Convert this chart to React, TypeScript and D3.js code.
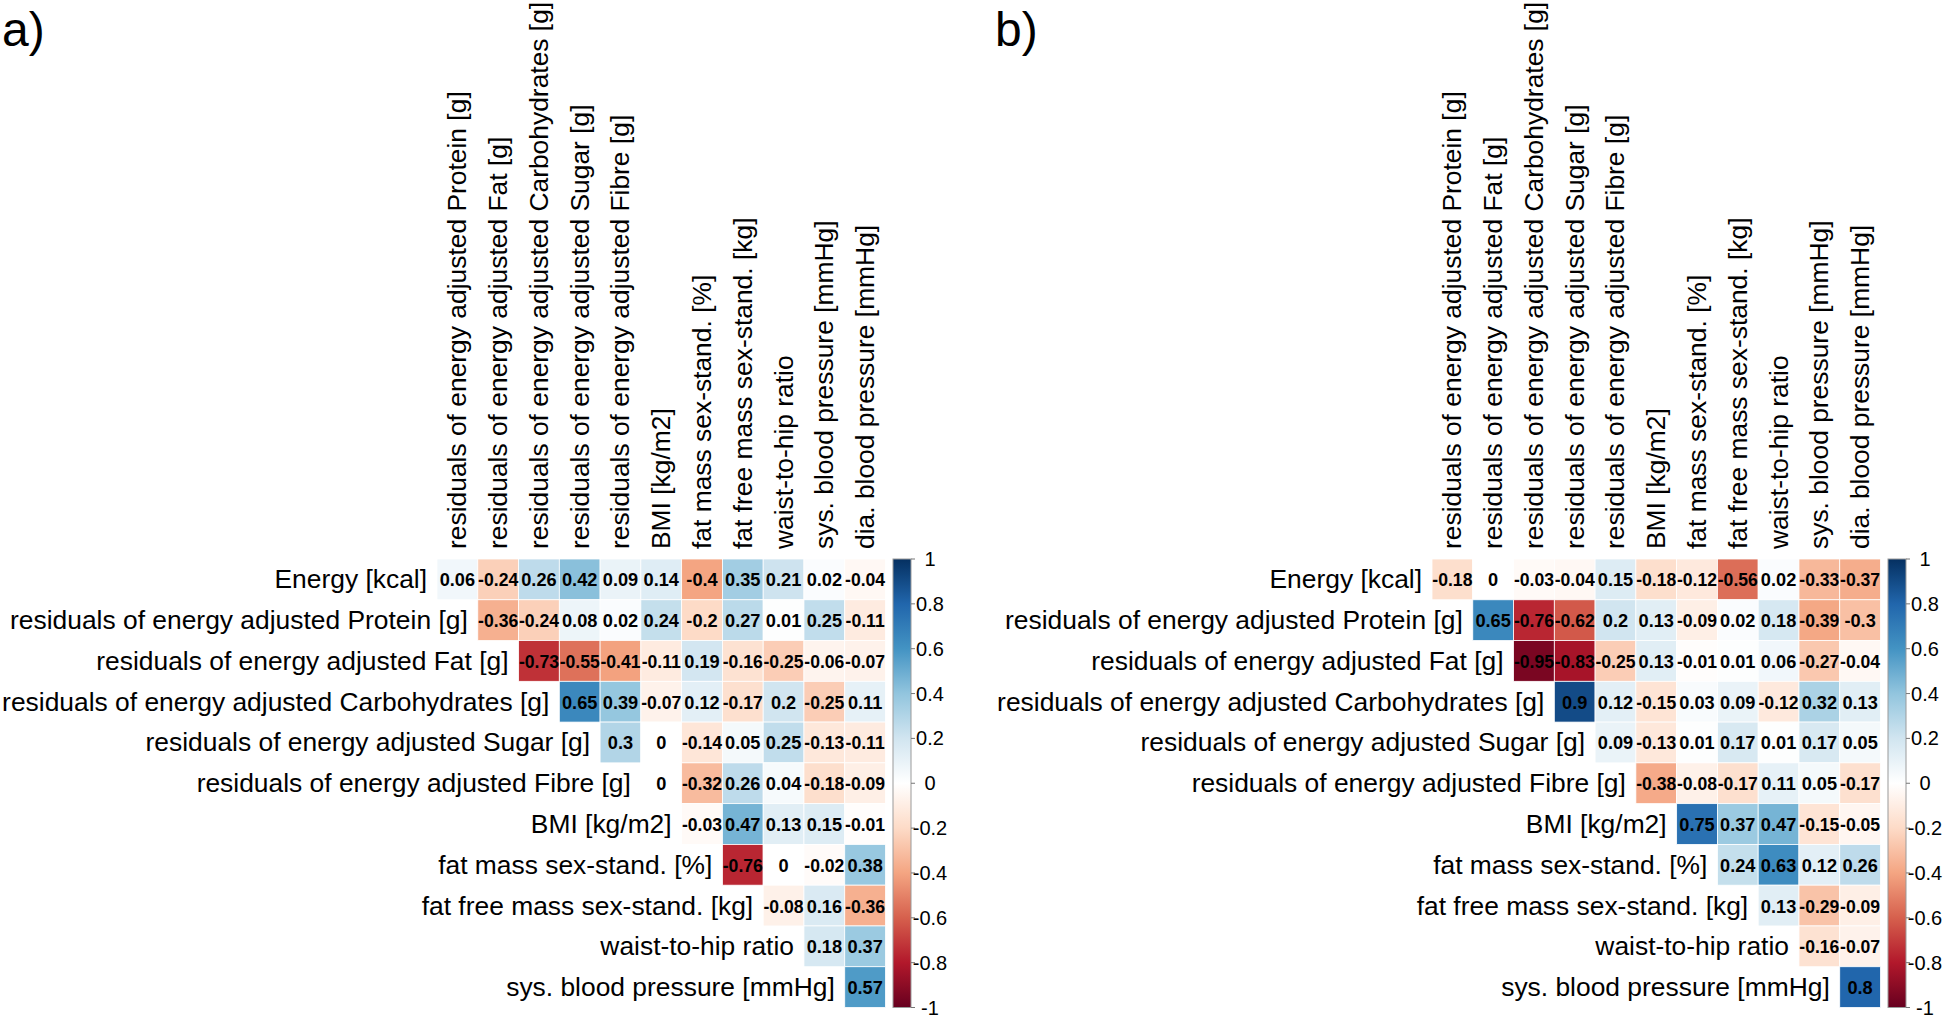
import React from "react";
import * as d3 from "d3";

const variables = [
  "Energy [kcal]",
  "residuals of energy adjusted Protein [g]",
  "residuals of energy adjusted Fat [g]",
  "residuals of energy adjusted Carbohydrates [g]",
  "residuals of energy adjusted Sugar [g]",
  "residuals of energy adjusted Fibre [g]",
  "BMI [kg/m2]",
  "fat mass sex-stand. [%]",
  "fat free mass sex-stand. [kg]",
  "waist-to-hip ratio",
  "sys. blood pressure [mmHg]",
  "dia. blood pressure [mmHg]",
];
const rowLabels = variables.slice(0, 11);
const colLabels = variables.slice(1);

// upper triangle, row i starts at column i
const corrA = [
  [0.06, -0.24, 0.26, 0.42, 0.09, 0.14, -0.4, 0.35, 0.21, 0.02, -0.04],
  [-0.36, -0.24, 0.08, 0.02, 0.24, -0.2, 0.27, 0.01, 0.25, -0.11],
  [-0.73, -0.55, -0.41, -0.11, 0.19, -0.16, -0.25, -0.06, -0.07],
  [0.65, 0.39, -0.07, 0.12, -0.17, 0.2, -0.25, 0.11],
  [0.3, 0, -0.14, 0.05, 0.25, -0.13, -0.11],
  [0, -0.32, 0.26, 0.04, -0.18, -0.09],
  [-0.03, 0.47, 0.13, 0.15, -0.01],
  [-0.76, 0, -0.02, 0.38],
  [-0.08, 0.16, -0.36],
  [0.18, 0.37],
  [0.57],
];
const corrB = [
  [-0.18, 0, -0.03, -0.04, 0.15, -0.18, -0.12, -0.56, 0.02, -0.33, -0.37],
  [0.65, -0.76, -0.62, 0.2, 0.13, -0.09, 0.02, 0.18, -0.39, -0.3],
  [-0.95, -0.83, -0.25, 0.13, -0.01, 0.01, 0.06, -0.27, -0.04],
  [0.9, 0.12, -0.15, 0.03, 0.09, -0.12, 0.32, 0.13],
  [0.09, -0.13, 0.01, 0.17, 0.01, 0.17, 0.05],
  [-0.38, -0.08, -0.17, 0.11, 0.05, -0.17],
  [0.75, 0.37, 0.47, -0.15, -0.05],
  [0.24, 0.63, 0.12, 0.26],
  [0.13, -0.29, -0.09],
  [-0.16, -0.07],
  [0.8],
];
const legendTicks = [1, 0.8, 0.6, 0.4, 0.2, 0, -0.2, -0.4, -0.6, -0.8, -1];
const paletteColors = [
  "#67001F", "#B2182B", "#D6604D", "#F4A582", "#FDDBC7", "#FFFFFF",
  "#D1E5F0", "#92C5DE", "#4393C3", "#2166AC", "#053061",
];

const color = d3
  .scaleLinear<string>()
  .domain(d3.range(11).map((i) => -1 + i * 0.2))
  .range(paletteColors)
  .interpolate(d3.interpolateRgb);

const FONT = "'Liberation Sans', Arial, Helvetica, sans-serif";

function Panel({ letter, letterX, gridLeft, corr, gid }: any) {
  const gridTop = 559;
  const size = 448.5;
  const x = d3.scaleBand<number>().domain(d3.range(11)).range([gridLeft, gridLeft + size]);
  const y = d3.scaleBand<number>().domain(d3.range(11)).range([gridTop, gridTop + size]);
  const cw = x.bandwidth();
  const barX = gridLeft + size + 7.5;
  const barW = 18;
  const ly = d3.scaleLinear().domain([1, -1]).range([gridTop, gridTop + size]);
  const cells: any[] = [];
  corr.forEach((row: number[], i: number) => {
    row.forEach((v: number, k: number) => {
      cells.push({ i, j: i + k, v });
    });
  });
  return (
    <g>
      <text x={letterX} y={46} fontFamily={FONT} fontSize={48} fill="#000">
        {letter}
      </text>
      {colLabels.map((l, j) => (
        <text
          key={"c" + j}
          transform={`translate(${(x(j) as number) + cw / 2},${gridTop - 10}) rotate(-90)`}
          dominantBaseline="central"
          fontFamily={FONT}
          fontSize={26.4}
          fill="#000"
        >
          {l}
        </text>
      ))}
      {rowLabels.map((l, i) => (
        <text
          key={"r" + i}
          x={(x(i) as number) - 10}
          y={(y(i) as number) + y.bandwidth() / 2}
          textAnchor="end"
          dominantBaseline="central"
          fontFamily={FONT}
          fontSize={26.4}
          fill="#000"
        >
          {l}
        </text>
      ))}
      {cells.map((c) => (
        <rect
          key={`b${c.i}-${c.j}`}
          x={x(c.j)}
          y={y(c.i)}
          width={cw}
          height={y.bandwidth()}
          fill={color(c.v)}
          stroke="#fff"
          strokeWidth={0.8}
        />
      ))}
      {cells.map((c) => (
        <text
          key={`t${c.i}-${c.j}`}
          x={(x(c.j) as number) + cw / 2}
          y={(y(c.i) as number) + y.bandwidth() / 2 + 1}
          textAnchor="middle"
          dominantBaseline="central"
          fontFamily={FONT}
          fontWeight="bold"
          fontSize={String(c.v).length > 4 ? 17.6 : 18.2}
          fill="#000"
        >
          {String(c.v)}
        </text>
      ))}
      <defs>
        <linearGradient id={gid} x1="0" y1="0" x2="0" y2="1">
          {paletteColors
            .slice()
            .reverse()
            .map((c, k) => (
              <stop key={k} offset={`${k * 10}%`} stopColor={c} />
            ))}
        </linearGradient>
      </defs>
      <rect x={barX} y={gridTop} width={barW} height={size} fill={`url(#${gid})`} stroke="#9a9a9a" strokeWidth={1} />
      {legendTicks.map((t) => (
        <g key={"l" + t}>
          <line x1={barX + barW} x2={barX + barW + 4} y1={ly(t)} y2={ly(t)} stroke="#777" strokeWidth={1} />
          <text
            x={barX + barW + 19}
            y={ly(t)}
            textAnchor="middle"
            dominantBaseline="central"
            fontFamily={FONT}
            fontSize={20}
            fill="#000"
          >
            {String(t)}
          </text>
        </g>
      ))}
    </g>
  );
}

export default function App() {
  return (
    <svg
      width={1944}
      height={1018}
      style={{ position: "absolute", left: 0, top: 0, background: "#fff" }}
    >
      <rect x={0} y={0} width={1944} height={1018} fill="#fff" />
      <Panel letter="a)" letterX={2} gridLeft={437} corr={corrA} gid="gradA" />
      <Panel letter="b)" letterX={995} gridLeft={1432} corr={corrB} gid="gradB" />
    </svg>
  );
}
